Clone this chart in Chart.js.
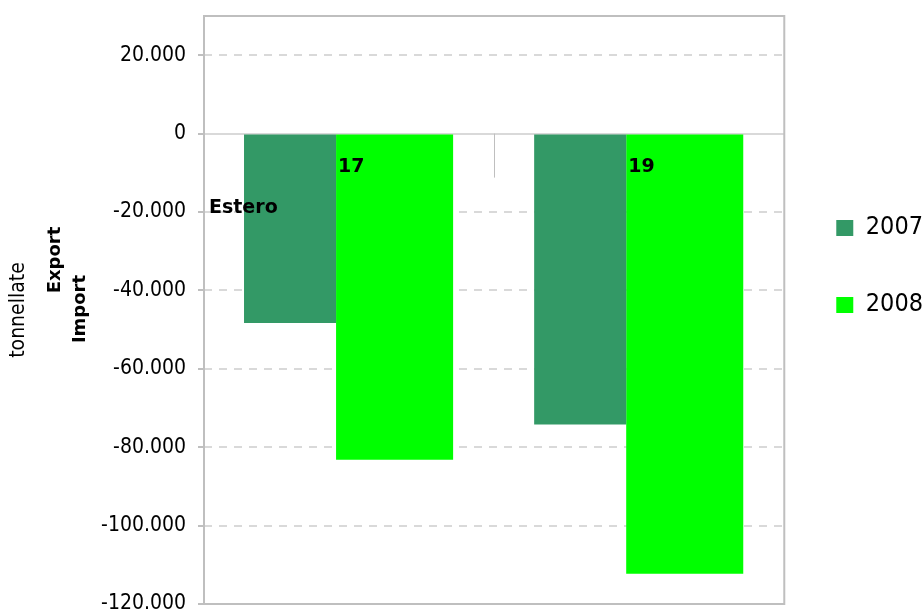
<!DOCTYPE html>
<html>
<head>
<meta charset="utf-8">
<script src="https://cdn.jsdelivr.net/npm/chart.js@4.4.1/dist/chart.umd.min.js"></script>
<style>
  html, body { margin: 0; padding: 0; background: #fff; }
  #wrap { width: 923px; height: 613px; }
</style>
</head>
<body>
<div id="wrap"><canvas id="chart" width="923" height="613"></canvas></div>
<script>
document.addEventListener("DOMContentLoaded", function () {
    const categories = ["17", "19"];
    const seriesNames = ["2007", "2008"];
    const values2007 = [-48300, -74200];
    const values2008 = [-83200, -112300];
    const yTickValues = [-120000, -100000, -80000, -60000, -40000, -20000, 0, 20000];
    const axisTitle = "tonnellate";
    const sideLabels = ["Export", "Import"];
    const groupLabel = "Estero";
    const yMin = -120000;
    const yMax = 30000;

    const FONT = "'DejaVu Sans Condensed', 'DejaVu Sans', sans-serif";
    const BOLD = "bold 19px 'DejaVu Sans', sans-serif";

    Chart.defaults.font.family = FONT;
    Chart.defaults.color = "#000";

    // frame, group divider and the loose text labels
    const extras = {
        id: "extras",
        afterDatasetsDraw(chart) {
            const { ctx, chartArea, scales: { x, y } } = chart;
            const zero = y.getPixelForValue(0);
            ctx.save();
            const mid = Math.round((x.getPixelForValue(0) + x.getPixelForValue(1)) / 2) + 0.5;
            ctx.strokeStyle = "#bfbfbf";
            ctx.lineWidth = 1;
            ctx.beginPath();
            ctx.moveTo(mid, zero);
            ctx.lineTo(mid, zero + 44);
            ctx.stroke();

            ctx.font = BOLD;
            ctx.fillStyle = "#000";
            ctx.textAlign = "left";
            ctx.textBaseline = "alphabetic";
            chart.getDatasetMeta(1).data.forEach((bar, i) => {
                ctx.fillText(categories[i], bar.x - bar.width / 2 + 2, zero + 38);
            });
            ctx.fillText(groupLabel, chartArea.left + 5, zero + 79);
            ctx.restore();
        },
        afterDraw(chart) {
            const { ctx, chartArea } = chart;
            ctx.save();
            ctx.strokeStyle = "#bfbfbf";
            ctx.lineWidth = 2;
            ctx.strokeRect(chartArea.left, chartArea.top, chartArea.right - chartArea.left, chartArea.bottom - chartArea.top);

            ctx.font = "bold 18px 'DejaVu Sans', sans-serif";
            ctx.fillStyle = "#000";
            ctx.textAlign = "center";
            ctx.textBaseline = "middle";
            [[55, 260], [80, 309]].forEach((p, i) => {
                ctx.save();
                ctx.translate(p[0], p[1]);
                ctx.rotate(-Math.PI / 2);
                ctx.fillText(sideLabels[i], 0, 0);
                ctx.restore();
            });
            ctx.restore();
        }
    };

    new Chart(document.getElementById("chart"), {
        type: "bar",
        data: {
            labels: categories,
            datasets: [
                {
                    label: seriesNames[0],
                    data: values2007,
                    backgroundColor: "#339966",
                    categoryPercentage: 0.8138,
                    barPercentage: 0.7797
                },
                {
                    label: seriesNames[1],
                    data: values2008,
                    backgroundColor: "#00ff00",
                    categoryPercentage: 0.6276,
                    barPercentage: 1.2857
                }
            ]
        },
        options: {
            responsive: false,
            animation: false,
            layout: { padding: { left: 0, top: 16, right: -10, bottom: 9 } },
            plugins: {
                tooltip: { enabled: false },
                legend: {
                    position: "right",
                    align: "start",
                    title: { display: true, text: "", padding: { top: 133, bottom: 0 }, font: { size: 12 } },
                    labels: { boxWidth: 17, boxHeight: 16, padding: 52, font: { size: 25 } }
                }
            },
            scales: {
                x: { display: false, offset: true },
                y: {
                    min: yMin,
                    max: yMax,
                    afterBuildTicks: (s) => { s.ticks = yTickValues.map((v) => ({ value: v })); },
                    afterFit: (s) => { s.width = 204; s.paddingTop = 0; s.paddingBottom = 0; },
                    ticks: {
                        padding: 12,
                        font: { size: 21 },
                        callback: (v) => v.toLocaleString("it-IT")
                    },
                    grid: {
                        color: "#d9d9d9",
                        lineWidth: 2,
                        tickLength: 6,
                        tickColor: "#bfbfbf",
                        tickWidth: 2,
                        tickBorderDash: []
                    },
                    border: {
                        display: false,
                        dash: (ctx) => (ctx.tick && ctx.tick.value !== 0 ? [8, 7] : [])
                    },
                    title: {
                        display: true,
                        text: axisTitle,
                        font: { size: 21 },
                        padding: { top: 6, bottom: 0 }
                    }
                }
            }
        },
        plugins: [extras]
    });
});
</script>
</body>
</html>
